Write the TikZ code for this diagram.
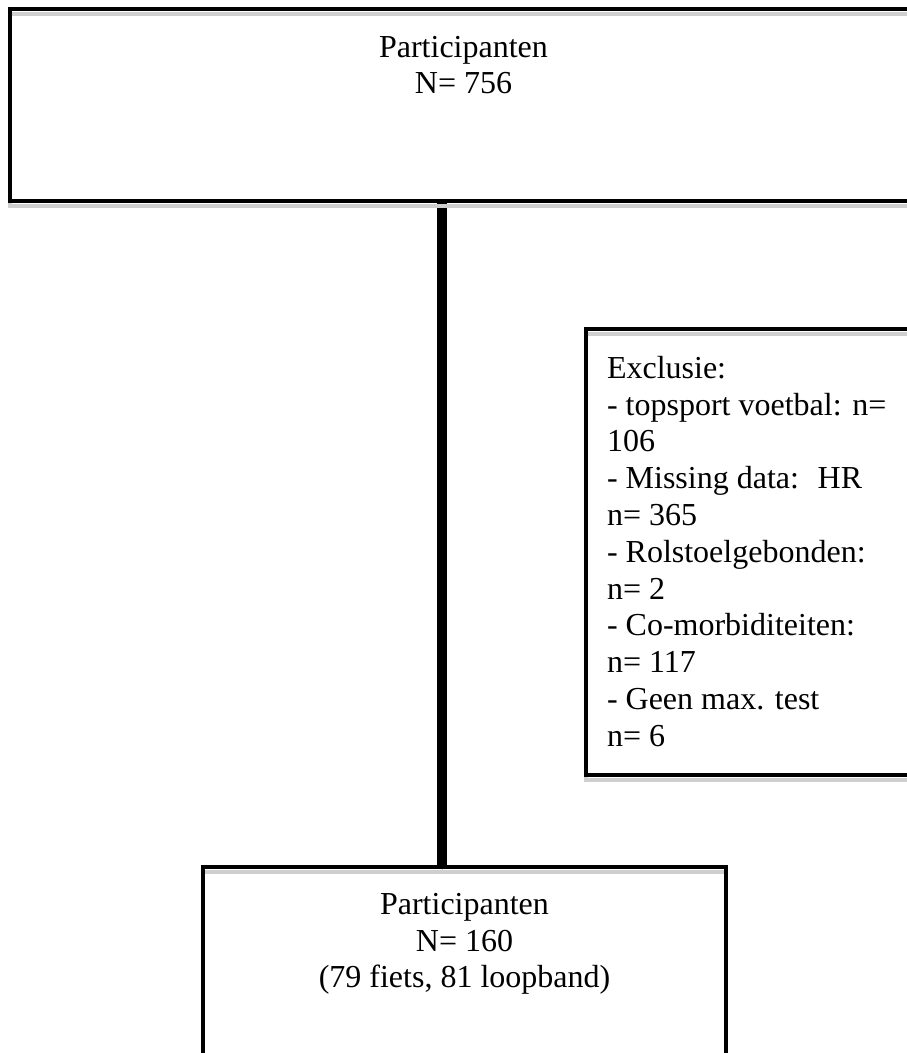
\documentclass[tikz,border=0pt]{standalone}
\usepackage{fontspec}
\setmainfont{Liberation Serif}
\usetikzlibrary{positioning, backgrounds}

\begin{document}
\begin{tikzpicture}[x=1pt, y=1pt, outer sep=0pt,
    font=\fontsize{32pt}{36.8pt}\selectfont,
    shade line/.style={preaction={draw=black!19, transform canvas={yshift=-4.5pt}}},
    box/.style={draw, rectangle, line width=4pt, inner sep=0pt, shade line},
    txt/.style={inner sep=0pt, align=center},
    stemline/.style={line width=10pt, shade line}]

\useasboundingbox (0,0) rectangle (907,-1053);
\clip (0,0) rectangle (907,-1053);

\node[box, minimum width=907pt, minimum height=192pt] (top) at (463.5,-105) {};
\node[box, minimum width=344pt, minimum height=446pt] (excl) at (758,-552) {};
\node[box, minimum width=523pt, minimum height=213pt] (bottom) at (464.5,-973.5) {};
\coordinate (stem) at (442,0);

\node[txt, below=27pt of top.north] (toptext) {Participanten\\N= 756};
\node[txt, align=left, anchor=north west, below right=27pt and 21pt of excl.north west] (excltext)
  {Exclusie:\\- topsport voetbal: n=\\106\\- Missing data:~ HR\\n= 365\\- Rolstoelgebonden:\\n= 2\\- Co-morbiditeiten:\\n= 117\\- Geen max. test\\n= 6};
\node[txt, below=26pt of bottom.north] (bottomtext) {Participanten\\N= 160\\(79 fiets, 81 loopband)};

\begin{scope}[on background layer]
\draw[stemline] (top.south -| stem) -- (bottom.north -| stem);
\end{scope}
\end{tikzpicture}
\end{document}
